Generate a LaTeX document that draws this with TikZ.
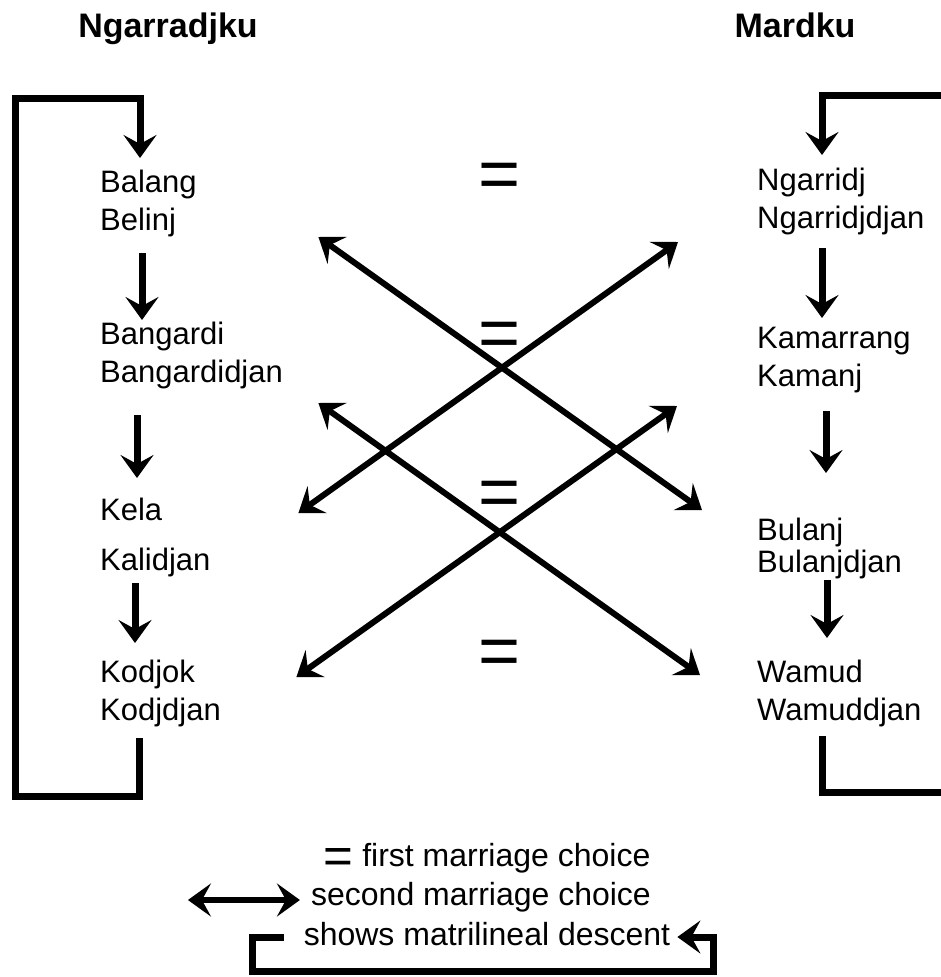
\documentclass[tikz,border=0pt]{standalone}
\usepackage{fontspec}
\setmainfont{Liberation Sans}
\usetikzlibrary{arrows.meta}
\begin{document}
\begin{tikzpicture}[x=1pt,y=-1pt,>={Stealth[length=23pt,width=33pt,inset=9pt]},every node/.append style={inner sep=0pt,font=\fontsize{31}{38}\selectfont},grp/.style={align=left,text width=200pt,anchor=north west},hd/.style={anchor=base,font=\fontsize{34}{40}\selectfont\bfseries},eq/.style={anchor=base,font=\fontsize{72}{72}\selectfont},key/.style={anchor=base,font=\fontsize{32}{40}\selectfont},desc/.style={->,line width=7pt},mar/.style={<->,line width=6pt}]
    \useasboundingbox (0,0) rectangle (940,977);
    \node [hd] (Ng) at (168,37) {Ngarradjku};
    \node [hd] (Ma) at (795,37) {Mardku};
    \node [grp] (Bal) at (100,170) {Balang\\Belinj};
    \node [grp] (Ban) at (100,322) {Bangardi\\Bangardidjan};
    \node [grp] (Kel) at (100,498) {Kela\\[12pt]Kalidjan};
    \node [grp] (Kod) at (100,660) {Kodjok\\Kodjdjan};
    \node [grp,text width=180pt] (Nga) at (757,168) {Ngarridj\\Ngarridjdjan};
    \node [grp,text width=180pt] (Kam) at (757,327) {Kamarrang\\Kamanj};
    \node [grp,text width=180pt] (Bul) at (757,518) {Bulanj\\[-6pt]Bulanjdjan};
    \node [grp,text width=180pt] (Wam) at (757,660) {Wamud\\Wamuddjan};
    \node [eq] (E1) at (500,198) {=};
    \node [eq] (E2) at (500,357) {=};
    \node [eq] (E3) at (500,516) {=};
    \node [eq] (E4) at (500,675) {=};
    \node [key] (K1) at (487,866) {\raisebox{-7pt}{\fontsize{51}{40}\selectfont=} first marriage choice};
    \node [key] (K2) at (481,905) {second marriage choice};
    \node [key] (K3) at (487,945) {shows matrilineal descent};
    \draw [desc] ([shift={(42,16)}]Bal.south west) -- ([shift={(42,-2)}]Ban.north west);
    \draw [desc] ([shift={(37,26)}]Ban.south west) -- ([shift={(37,-20)}]Kel.north west);
    \draw [desc] ([shift={(35,6)}]Kel.south west) -- ([shift={(35,-17)}]Kod.north west);
    \draw [desc] ([shift={(65,13)}]Nga.south west) -- ([shift={(65,-9)}]Kam.north west);
    \draw [desc] ([shift={(69,18)}]Kam.south west) -- ([shift={(69,-45)}]Bul.north west);
    \draw [desc] ([shift={(70,1)}]Bul.south west) -- ([shift={(70,-22)}]Wam.north west);
    \draw [desc] ([shift={(39,11)}]Kod.south west) |- (15,796) |- ([shift={(40,-72)}]Bal.north west) -- ([shift={(40,-12)}]Bal.north west);
    \draw [desc] ([shift={(65,9)}]Wam.south west) |- (946,792) |- ([shift={(65,-73)}]Nga.north west) -- ([shift={(65,-13)}]Nga.north west);
    \draw [mar] ([shift={(18,67)}]Bal.north east) -- ([shift={(-55,-8)}]Bul.north west);
    \draw [mar] ([shift={(-2,15)}]Kel.north east) -- ([shift={(-79,74)}]Nga.north west);
    \draw [mar] ([shift={(18,81)}]Ban.north east) -- ([shift={(-57,15)}]Wam.north west);
    \draw [mar] ([shift={(-4,17)}]Kod.north east) -- ([shift={(-80,79)}]Kam.north west);
    \draw [mar] ([shift={(-123,-5)}]K2.base west) -- ([shift={(-11,-5)}]K2.base west);
    \draw [desc] ([shift={(-20,-8)}]K3.base west) -| (252,971) -| ([shift={(43,-8)}]K3.base east) -- ([shift={(7,-8)}]K3.base east);
\end{tikzpicture}
\end{document}
